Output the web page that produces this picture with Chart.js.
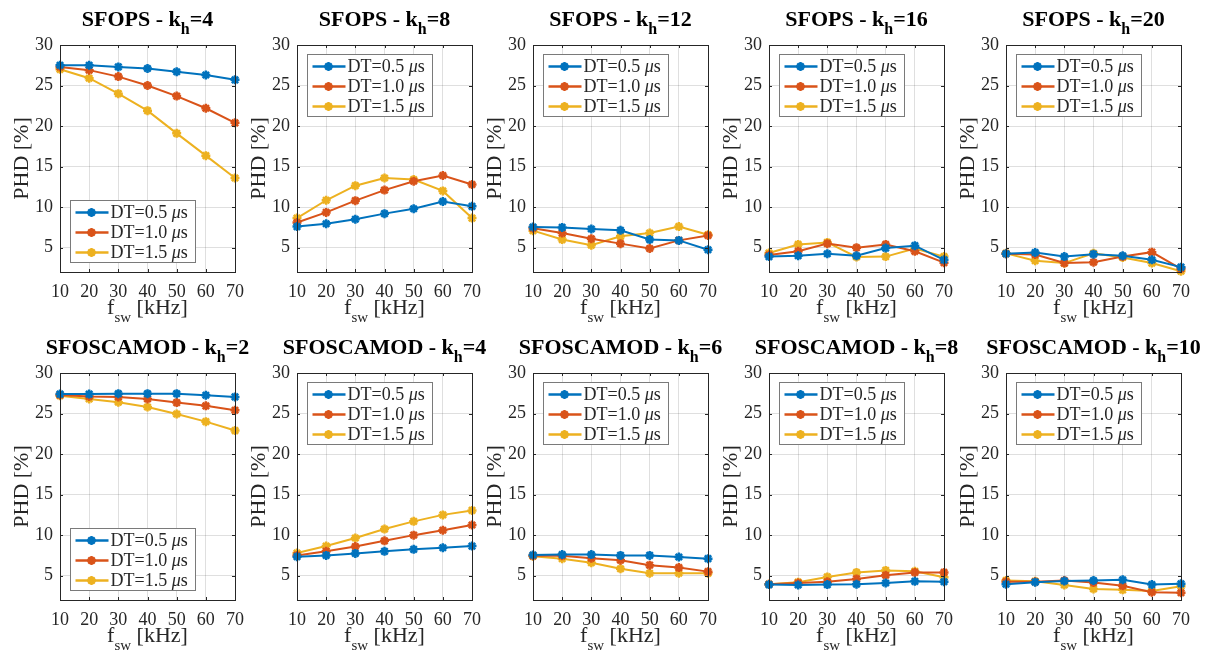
<!DOCTYPE html>
<html lang="en">
<head>
  <meta charset="UTF-8">
  <title>PHD vs switching frequency</title>
  <script src="https://cdn.jsdelivr.net/npm/chart.js"></script>
  <style>
    body {
      margin: 0;
      background: #fff;
    }
    .panel {
      position: absolute;
    }
  </style>
</head>
<body>
  <div id="figure"></div>

  <script>
    const fsw = [10, 20, 30, 40, 50, 60, 70];
    const yTicks = [5, 10, 15, 20, 25, 30];
    const dtNames = ['DT=0.5', 'DT=1.0', 'DT=1.5'];
    const lineColors = ['#0072BD', '#D95319', '#EDB120'];

    // SFOPS
    const sfopsK4Dt05 = [27.5, 27.5, 27.3, 27.1, 26.7, 26.3, 25.7];
    const sfopsK4Dt10 = [27.3, 26.9, 26.1, 25.0, 23.7, 22.2, 20.4];
    const sfopsK4Dt15 = [27.0, 25.9, 24.0, 21.9, 19.1, 16.35, 13.6];

    const sfopsK8Dt05 = [7.6, 7.95, 8.5, 9.2, 9.8, 10.7, 10.1];
    const sfopsK8Dt10 = [8.1, 9.35, 10.8, 12.1, 13.2, 13.9, 12.8];
    const sfopsK8Dt15 = [8.65, 10.85, 12.65, 13.6, 13.4, 12.0, 8.65];

    const sfopsK12Dt05 = [7.55, 7.5, 7.3, 7.15, 6.0, 5.9, 4.75];
    const sfopsK12Dt10 = [7.4, 6.8, 6.1, 5.5, 4.9, 5.9, 6.5];
    const sfopsK12Dt15 = [7.1, 6.0, 5.3, 6.4, 6.8, 7.6, 6.6];

    const sfopsK16Dt05 = [3.9, 4.0, 4.25, 4.0, 4.95, 5.25, 3.5];
    const sfopsK16Dt10 = [4.1, 4.55, 5.5, 5.0, 5.4, 4.55, 3.15];
    const sfopsK16Dt15 = [4.35, 5.4, 5.65, 3.85, 3.9, 4.9, 3.9];

    const sfopsK20Dt05 = [4.25, 4.4, 3.9, 4.2, 4.0, 3.5, 2.6];
    const sfopsK20Dt10 = [4.25, 4.15, 3.1, 3.2, 3.9, 4.45, 2.4];
    const sfopsK20Dt15 = [4.3, 3.4, 3.1, 4.3, 3.8, 3.1, 2.1];

    // SFOSCAMOD
    const scamodK2Dt05 = [27.4, 27.4, 27.45, 27.45, 27.45, 27.25, 27.05];
    const scamodK2Dt10 = [27.3, 27.1, 27.05, 26.8, 26.35, 25.95, 25.4];
    const scamodK2Dt15 = [27.2, 26.8, 26.4, 25.8, 24.95, 24.0, 22.9];

    const scamodK4Dt05 = [7.35, 7.5, 7.75, 8.0, 8.25, 8.45, 8.65];
    const scamodK4Dt10 = [7.5, 8.0, 8.6, 9.3, 10.0, 10.6, 11.25];
    const scamodK4Dt15 = [7.8, 8.65, 9.65, 10.75, 11.7, 12.5, 13.05];

    const scamodK6Dt05 = [7.55, 7.6, 7.6, 7.5, 7.5, 7.3, 7.1];
    const scamodK6Dt10 = [7.45, 7.45, 7.15, 6.9, 6.3, 6.0, 5.5];
    const scamodK6Dt15 = [7.4, 7.1, 6.6, 5.85, 5.3, 5.3, 5.3];

    const scamodK8Dt05 = [3.9, 3.85, 3.9, 3.95, 4.1, 4.3, 4.25];
    const scamodK8Dt10 = [3.95, 4.1, 4.25, 4.6, 5.05, 5.4, 5.4];
    const scamodK8Dt15 = [3.95, 4.2, 4.85, 5.4, 5.65, 5.55, 4.8];

    const scamodK10Dt05 = [3.95, 4.2, 4.35, 4.4, 4.5, 3.9, 4.0];
    const scamodK10Dt10 = [4.25, 4.25, 4.4, 4.15, 3.75, 2.95, 2.9];
    const scamodK10Dt15 = [4.4, 4.3, 3.85, 3.35, 3.25, 3.1, 3.7];

    const panels = [
      { method: 'SFOPS', kh: 4, legendAt: 'bottom', series: [sfopsK4Dt05, sfopsK4Dt10, sfopsK4Dt15] },
      { method: 'SFOPS', kh: 8, legendAt: 'top', series: [sfopsK8Dt05, sfopsK8Dt10, sfopsK8Dt15] },
      { method: 'SFOPS', kh: 12, legendAt: 'top', series: [sfopsK12Dt05, sfopsK12Dt10, sfopsK12Dt15] },
      { method: 'SFOPS', kh: 16, legendAt: 'top', series: [sfopsK16Dt05, sfopsK16Dt10, sfopsK16Dt15] },
      { method: 'SFOPS', kh: 20, legendAt: 'top', series: [sfopsK20Dt05, sfopsK20Dt10, sfopsK20Dt15] },
      { method: 'SFOSCAMOD', kh: 2, legendAt: 'bottom', series: [scamodK2Dt05, scamodK2Dt10, scamodK2Dt15] },
      { method: 'SFOSCAMOD', kh: 4, legendAt: 'top', series: [scamodK4Dt05, scamodK4Dt10, scamodK4Dt15] },
      { method: 'SFOSCAMOD', kh: 6, legendAt: 'top', series: [scamodK6Dt05, scamodK6Dt10, scamodK6Dt15] },
      { method: 'SFOSCAMOD', kh: 8, legendAt: 'top', series: [scamodK8Dt05, scamodK8Dt10, scamodK8Dt15] },
      { method: 'SFOSCAMOD', kh: 10, legendAt: 'top', series: [scamodK10Dt05, scamodK10Dt10, scamodK10Dt15] }
    ];

    const SERIF = '"Liberation Serif", "Times New Roman", serif';
    const TEXT = '#262626';
    const colLeft = [0, 237, 473, 709, 946];
    const rowTop = [0, 328];
    const W = 264, H = 330;

    // draws a run of text pieces [text, font, dy] starting at x, returns end x
    function drawRun(ctx, pieces, x, y) {
      pieces.forEach(p => {
        ctx.font = p[1];
        ctx.fillText(p[0], x, y + (p[2] || 0));
        x += ctx.measureText(p[0]).width;
      });
      return x;
    }

    function runWidth(ctx, pieces) {
      let w = 0;
      pieces.forEach(p => { ctx.font = p[1]; w += ctx.measureText(p[0]).width; });
      return w;
    }

    // axes box, inward ticks, title, labels and a MATLAB style legend
    const matlabAxes = {
      id: 'matlabAxes',
      afterDraw(chart, args, opts) {
        const ctx = chart.ctx;
        const a = chart.chartArea;
        const xs = chart.scales.x, ys = chart.scales.y;
        ctx.save();

        ctx.strokeStyle = TEXT;
        ctx.lineWidth = 1;
        ctx.beginPath();
        fsw.forEach(v => {
          const px = Math.round(xs.getPixelForValue(v)) + 0.5;
          ctx.moveTo(px, a.bottom); ctx.lineTo(px, a.bottom - 3);
          ctx.moveTo(px, a.top); ctx.lineTo(px, a.top + 3);
        });
        yTicks.forEach(v => {
          const py = Math.round(ys.getPixelForValue(v)) + 0.5;
          ctx.moveTo(a.left, py); ctx.lineTo(a.left + 3, py);
          ctx.moveTo(a.right, py); ctx.lineTo(a.right - 3, py);
        });
        ctx.stroke();
        ctx.strokeRect(Math.round(a.left) + 0.5, Math.round(a.top) + 0.5,
          Math.round(a.right - a.left), Math.round(a.bottom - a.top));

        ctx.fillStyle = '#000';
        ctx.textBaseline = 'alphabetic';
        ctx.textAlign = 'left';
        const cx = (a.left + a.right) / 2;

        // title
        const tb = 'bold 22px ' + SERIF;
        const title = [[opts.method + ' - k', tb], ['h', 'bold 16px ' + SERIF, 8], ['=' + opts.kh, tb]];
        drawRun(ctx, title, cx - runWidth(ctx, title) / 2, a.top - 19);

        // x label
        ctx.fillStyle = TEXT;
        const xl = [['f', '22px ' + SERIF], ['sw', '15px ' + SERIF, 8], [' [kHz]', '22px ' + SERIF]];
        drawRun(ctx, xl, cx - runWidth(ctx, xl) / 2, a.bottom + 42);

        // y label
        ctx.save();
        ctx.translate(a.left - 38, (a.top + a.bottom) / 2);
        ctx.rotate(-Math.PI / 2);
        ctx.font = '22px ' + SERIF;
        ctx.textAlign = 'center';
        ctx.textBaseline = 'middle';
        ctx.fillText('PHD [%]', 0, 0);
        ctx.restore();

        // legend
        const bw = 125, bh = 62;
        const bx = Math.round(a.left) + 10.5;
        const by = opts.legendAt === 'top' ? Math.round(a.top) + 9.5 : Math.round(a.bottom) - 9.5 - bh;
        ctx.fillStyle = '#fff';
        ctx.fillRect(bx, by, bw, bh);
        ctx.strokeStyle = '#7a7a7a';
        ctx.lineWidth = 1;
        ctx.strokeRect(bx, by, bw, bh);
        chart.data.datasets.forEach((ds, i) => {
          const ry = by + 12 + i * 20;
          ctx.strokeStyle = ds.borderColor;
          ctx.fillStyle = ds.borderColor;
          ctx.lineWidth = 2.5;
          ctx.beginPath();
          ctx.moveTo(bx + 5, ry); ctx.lineTo(bx + 38, ry);
          ctx.stroke();
          Chart.helpers.drawPoint(ctx, {
            pointStyle: 'star', radius: 4.5, borderWidth: 2.5, rotation: 0
          }, bx + 21, ry);
          ctx.fillStyle = TEXT;
          ctx.textBaseline = 'middle';
          drawRun(ctx, [[ds.label + ' ', '18px ' + SERIF], ['\u03bc', 'italic 18px ' + SERIF], ['s', '18px ' + SERIF]], bx + 40, ry + 1);
        });

        ctx.restore();
      }
    };

    panels.forEach((p, idx) => {
      const row = Math.floor(idx / 5), col = idx % 5;
      const canvas = document.createElement('canvas');
      canvas.className = 'panel';
      canvas.width = W;
      canvas.height = H;
      canvas.style.left = colLeft[col] + 'px';
      canvas.style.top = rowTop[row] + 'px';
      document.getElementById('figure').appendChild(canvas);

      new Chart(canvas, {
        type: 'line',
        data: {
          datasets: p.series.map((vals, i) => ({
            label: dtNames[i],
            data: fsw.map((f, j) => ({ x: f, y: vals[j] })),
            borderColor: lineColors[i],
            backgroundColor: lineColors[i],
            borderWidth: 2,
            pointStyle: 'star',
            pointRadius: 4.5,
            pointBorderWidth: 2.5,
            tension: 0,
            clip: false
          }))
        },
        options: {
          responsive: false,
          animation: false,
          events: [],
          layout: { padding: { top: 45, right: W - 60 - 175, left: 0, bottom: 0 } },
          plugins: {
            legend: { display: false },
            tooltip: { enabled: false },
            title: { display: false },
            matlabAxes: { method: p.method, kh: p.kh, legendAt: p.legendAt }
          },
          scales: {
            x: {
              type: 'linear',
              min: 10,
              max: 70,
              afterBuildTicks: s => { s.ticks = fsw.map(v => ({ value: v })); },
              afterFit: s => { s.height = 58; },
              grid: { color: 'rgba(38,38,38,0.15)', drawTicks: false },
              border: { display: false },
              ticks: { color: TEXT, font: { family: SERIF, size: 18 }, padding: 9, maxRotation: 0 }
            },
            y: {
              min: 2,
              max: 30,
              afterBuildTicks: s => { s.ticks = yTicks.map(v => ({ value: v })); },
              afterFit: s => { s.width = 60; },
              grid: { color: 'rgba(38,38,38,0.15)', drawTicks: false },
              border: { display: false },
              ticks: { color: TEXT, font: { family: SERIF, size: 18 }, padding: 7 }
            }
          }
        },
        plugins: [matlabAxes]
      });
    });
  </script>
</body>
</html>
